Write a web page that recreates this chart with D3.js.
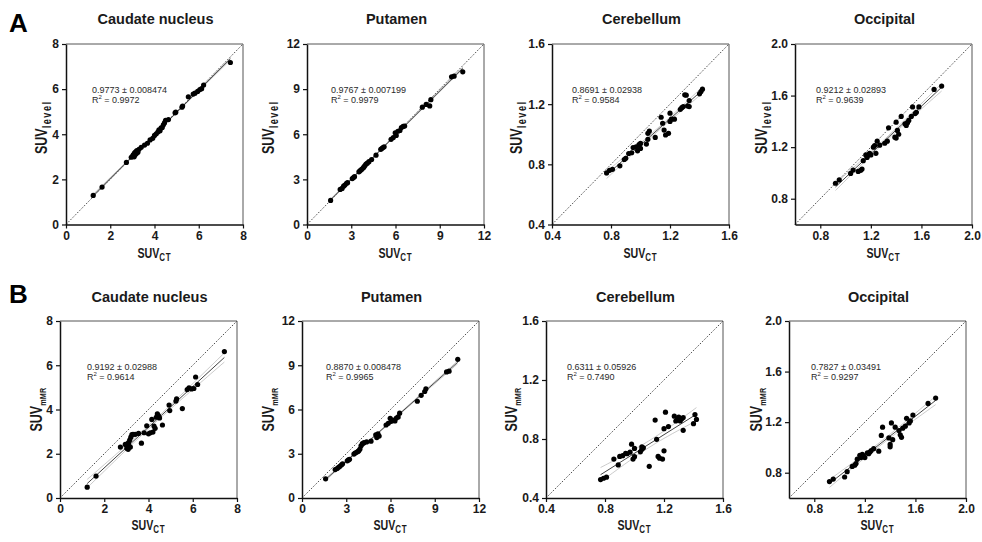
<!DOCTYPE html>
<html>
<head>
<meta charset="utf-8">
<script src="https://cdn.jsdelivr.net/npm/d3@7"></script>
<style>
  html, body { margin: 0; padding: 0; background: #fff; }
  svg { display: block; font-family: "Liberation Sans", Arial, sans-serif; }
</style>
</head>
<body>
<svg id="chart" width="982" height="542"></svg>
<script>
// ---- Regional SUV values: CT-based reference vs. level-based (A) and mMR (B) ----
const caudateCT    = [1.23,1.63,2.73,2.95,3.02,3.05,3.08,3.10,3.12,3.15,3.18,3.20,3.25,3.30,3.40,3.55,3.68,3.80,3.92,4.00,4.08,4.15,4.20,4.25,4.30,4.35,4.40,4.45,4.50,4.63,4.93,4.96,5.24,5.27,5.53,5.75,5.83,5.95,6.05,6.13,6.22,7.43];
const caudateLevel = [1.29,1.66,2.75,2.98,3.05,3.10,3.00,3.18,3.08,3.22,3.15,3.28,3.20,3.33,3.42,3.52,3.60,3.75,3.82,3.95,4.02,4.10,4.20,4.15,4.28,4.30,4.42,4.50,4.62,4.65,4.95,4.98,5.20,5.25,5.66,5.78,5.82,5.90,5.98,6.02,6.18,7.18];
const caudateMR    = [0.49,0.99,2.30,2.42,2.25,2.45,2.20,2.50,2.35,2.62,2.30,2.75,2.86,2.88,2.88,2.92,2.48,2.95,3.26,2.90,2.95,3.55,2.98,3.25,3.15,3.65,3.80,3.72,3.62,3.30,4.20,3.95,4.38,4.48,4.04,4.90,4.98,4.93,4.95,5.47,5.13,6.62];

const putamenCT    = [1.60,2.25,2.38,2.48,2.57,2.68,2.75,3.07,3.15,3.22,3.52,3.60,3.70,3.80,3.86,3.93,4.00,4.09,4.20,4.38,4.68,5.00,5.07,5.15,5.23,5.70,5.85,5.98,6.05,6.16,6.30,6.40,6.52,6.62,7.82,8.08,8.32,8.40,9.80,9.97,10.56];
const putamenLevel = [1.60,2.33,2.40,2.55,2.62,2.74,2.78,3.05,3.12,3.18,3.50,3.58,3.66,3.75,3.83,3.92,4.02,4.08,4.18,4.32,4.61,5.00,5.05,5.12,5.17,5.66,5.78,6.10,5.92,6.20,6.25,6.45,6.52,6.55,7.80,7.98,7.88,8.30,9.82,9.86,10.15];
const putamenMR    = [1.30,1.93,2.00,2.08,2.15,2.25,2.32,2.52,2.58,2.62,2.98,3.05,3.10,3.16,3.22,3.32,3.54,3.68,3.75,3.80,3.85,4.28,4.10,4.35,4.20,4.95,5.06,5.40,5.20,5.28,5.22,5.42,5.50,5.75,6.56,6.96,7.22,7.40,8.55,8.60,9.40];

const cerebellumCT    = [0.77,0.79,0.81,0.86,0.89,0.90,0.92,0.94,0.95,0.97,0.98,0.99,1.00,1.00,1.04,1.05,1.05,1.06,1.10,1.14,1.15,1.16,1.17,1.19,1.20,1.20,1.21,1.23,1.27,1.28,1.29,1.30,1.31,1.32,1.33,1.33,1.40,1.41,1.42];
const cerebellumLevel = [0.743,0.760,0.767,0.790,0.832,0.840,0.872,0.877,0.912,0.917,0.890,0.932,0.906,0.939,0.935,0.966,1.006,1.021,0.979,1.113,1.073,1.028,0.995,1.006,1.140,1.085,1.100,1.100,1.166,1.177,1.184,1.262,1.260,1.188,1.224,1.184,1.269,1.284,1.300];
const cerebellumMR    = [0.525,0.534,0.541,0.664,0.624,0.682,0.687,0.702,0.700,0.711,0.765,0.664,0.736,0.680,0.713,0.731,0.747,0.740,0.615,0.928,0.798,0.682,0.670,0.664,0.720,0.870,0.982,0.884,0.955,0.922,0.933,0.949,0.922,0.937,0.859,0.945,0.904,0.966,0.933];

const occipitalCT    = [0.92,0.95,1.04,1.06,1.10,1.12,1.13,1.14,1.16,1.17,1.18,1.19,1.20,1.22,1.23,1.24,1.25,1.27,1.31,1.33,1.34,1.39,1.40,1.40,1.41,1.42,1.44,1.47,1.48,1.49,1.50,1.52,1.53,1.55,1.56,1.58,1.70,1.76];
const occipitalLevel = [0.920,0.946,0.996,1.022,1.012,1.020,1.030,1.095,1.140,1.120,1.140,1.152,1.140,1.200,1.212,1.152,1.246,1.215,1.230,1.246,1.350,1.277,1.394,1.270,1.330,1.300,1.438,1.381,1.368,1.390,1.407,1.438,1.512,1.460,1.470,1.512,1.648,1.674];
const occipitalMR    = [0.730,0.750,0.766,0.808,0.850,0.860,0.873,0.907,0.938,0.920,0.945,0.933,0.920,0.957,0.950,0.964,0.975,0.990,0.970,1.095,1.160,1.075,1.024,1.005,1.194,1.061,1.160,1.134,1.100,1.080,1.152,1.168,1.230,1.194,1.210,1.256,1.348,1.390];

// Regression results (slope ± SE, R squared)
const levelSlope = ["0.9773","0.9767","0.8691","0.9212"];
const levelSE    = ["0.008474","0.007199","0.02938","0.02893"];
const levelR2    = ["0.9972","0.9979","0.9584","0.9639"];
const mmrSlope   = ["0.9192","0.8870","0.6311","0.7827"];
const mmrSE      = ["0.02988","0.008478","0.05926","0.03491"];
const mmrR2      = ["0.9614","0.9965","0.7490","0.9297"];

// Region names and axis ranges
const regionNames = ["Caudate nucleus","Putamen","Cerebellum","Occipital"];
const axisDomains = [[0, 8], [0, 12], [0.4, 1.6], [0.6, 2.0]];
const axisTicks   = [[0,2,4,6,8],[0,3,6,9,12],[0.4,0.8,1.2,1.6],[0.8,1.2,1.6,2.0]];
const tickFormats = ["d", "d", ".1f", ".1f"];

const ctSets    = [caudateCT, putamenCT, cerebellumCT, occipitalCT];
const levelSets = [caudateLevel, putamenLevel, cerebellumLevel, occipitalLevel];
const mmrSets   = [caudateMR, putamenMR, cerebellumMR, occipitalMR];

// ---- Layout ----
const plotW = 177;
const rows = [
  { letter: "A", sub: "level", subSize: 12, subSpacing: 2, ys: levelSets, slope: levelSlope, se: levelSE, r2: levelR2,
    top: 44, height: 180.5, lefts: [66, 307, 552, 795], titleY: 24, letterY: 32, xTitleY: 258, tickPad: 3,
    yTitleDx: [-19, -33, -30, -28], yTitleDy: -7, noteDx: [26, 24, 20, 21] },
  { letter: "B", sub: "mMR", subSize: 9.5, subSpacing: 0.3, ys: mmrSets, slope: mmrSlope, se: mmrSE, r2: mmrR2,
    top: 321, height: 177, lefts: [60, 302, 546, 789], titleY: 302, letterY: 303, xTitleY: 530, tickPad: 2,
    yTitleDx: [-18, -28, -29, -27], yTitleDy: 0, noteDx: [27, 24, 21, 22] }
];

const svg = d3.select("#chart");
svg.append("rect").attr("width", 982).attr("height", 542).attr("fill", "#fff");

function fitWithSlope(xs, ys, slope) {
  const n = xs.length, mx = d3.mean(xs), my = d3.mean(ys);
  const b0 = my - slope * mx;
  const sxx = d3.sum(xs, x => (x - mx) ** 2);
  const sse = d3.sum(xs, (x, i) => (ys[i] - (b0 + slope * x)) ** 2);
  const s = Math.sqrt(sse / (n - 2));
  return { b0, slope, mx, sxx, s, n };
}

rows.forEach(row => {
  svg.append("text")
    .attr("x", 9).attr("y", row.letterY)
    .attr("font-size", 26).attr("font-weight", "bold").attr("fill", "#000")
    .text(row.letter);

  regionNames.forEach((name, k) => {
    const left = row.lefts[k], top = row.top, h = row.height;
    const x = d3.scaleLinear().domain(axisDomains[k]).range([left, left + plotW]);
    const y = d3.scaleLinear().domain(axisDomains[k]).range([top + h, top]);
    const xs = ctSets[k], ys = row.ys[k];
    const slope = parseFloat(row.slope[k]);
    const g = svg.append("g");

    // Title
    g.append("text")
      .attr("x", left + plotW / 2 + 1).attr("y", row.titleY)
      .attr("text-anchor", "middle")
      .attr("font-size", 14.5).attr("font-weight", "bold").attr("fill", "#1a1a1a")
      .text(name);

    // Top and right frame edges
    g.append("path")
      .attr("d", `M${left},${top}H${left + plotW}V${top + h}`)
      .attr("fill", "none").attr("stroke", "#555").attr("stroke-width", 1);

    // Line of identity
    const [d0, d1] = axisDomains[k];
    g.append("line")
      .attr("x1", x(d0)).attr("y1", y(d0)).attr("x2", x(d1)).attr("y2", y(d1))
      .attr("stroke", "#222").attr("stroke-width", 0.8).attr("stroke-dasharray", "1.6,1.6");

    // Regression line with 95% confidence bands
    const fit = fitWithSlope(xs, ys, slope);
    const xmin = d3.min(xs), xmax = d3.max(xs);
    const samples = d3.range(41).map(i => xmin + (xmax - xmin) * i / 40);
    const tCrit = 2.02;
    const band = sign => samples.map(v => {
      const se = fit.s * Math.sqrt(1 / fit.n + (v - fit.mx) ** 2 / fit.sxx);
      return [v, fit.b0 + fit.slope * v + sign * tCrit * se];
    });
    const line = d3.line().x(d => x(d[0])).y(d => y(d[1]));
    [-1, 1].forEach(sgn => {
      g.append("path").attr("d", line(band(sgn)))
        .attr("fill", "none").attr("stroke", "#a8a8a8").attr("stroke-width", 0.6);
    });
    g.append("path")
      .attr("d", line([[xmin, fit.b0 + fit.slope * xmin], [xmax, fit.b0 + fit.slope * xmax]]))
      .attr("fill", "none").attr("stroke", "#444").attr("stroke-width", 1);

    // Data points
    g.append("g").selectAll("circle")
      .data(xs.map((v, i) => [v, ys[i]]))
      .join("circle")
      .attr("cx", d => x(d[0])).attr("cy", d => y(d[1]))
      .attr("r", 2.6).attr("fill", "#000");

    // Axes
    const fmt = d3.format(tickFormats[k]);
    const xAxis = g.append("g").attr("transform", `translate(0,${top + h})`)
      .call(d3.axisBottom(x).tickValues(axisTicks[k]).tickFormat(fmt).tickSize(4).tickSizeOuter(0).tickPadding(row.tickPad));
    const yAxis = g.append("g").attr("transform", `translate(${left},0)`)
      .call(d3.axisLeft(y).tickValues(axisTicks[k]).tickFormat(fmt).tickSize(4).tickSizeOuter(0).tickPadding(3));
    [xAxis, yAxis].forEach(ax => {
      ax.select(".domain").attr("stroke", "#111").attr("stroke-width", 1.5);
      ax.selectAll(".tick line").attr("stroke", "#111").attr("stroke-width", 1.2);
      ax.selectAll(".tick text")
        .attr("font-family", "Liberation Sans, Arial, sans-serif")
        .attr("font-size", 12).attr("font-weight", "bold").attr("fill", "#1a1a1a");
    });

    // Axis titles
    const xt = g.append("g")
      .attr("transform", `translate(${left + plotW / 2},${row.xTitleY}) scale(0.76,1)`)
      .append("text").attr("text-anchor", "middle").attr("font-weight", "bold").attr("fill", "#1a1a1a");
    xt.append("tspan").attr("font-size", 14).text("SUV");
    xt.append("tspan").attr("font-size", 10.5).attr("dy", 3).attr("letter-spacing", 1).text("CT");

    const yt = g.append("g")
      .attr("transform", `translate(${left + row.yTitleDx[k]},${top + h / 2 + row.yTitleDy}) rotate(-90) scale(0.76,1)`)
      .append("text").attr("text-anchor", "middle").attr("font-weight", "bold").attr("fill", "#1a1a1a");
    yt.append("tspan").attr("font-size", 16.5).text("SUV");
    yt.append("tspan").attr("font-size", row.subSize).attr("dy", 3.5)
      .attr("letter-spacing", row.subSpacing).text(row.sub);

    // Regression annotation
    const nx = left + row.noteDx[k], ny = top + 49;
    g.append("text").attr("x", nx).attr("y", ny)
      .attr("font-size", 9).attr("fill", "#2a2a2a")
      .text(`${row.slope[k]} ± ${row.se[k]}`);
    const r2t = g.append("text").attr("x", nx).attr("y", ny + 10)
      .attr("font-size", 9).attr("fill", "#2a2a2a");
    r2t.append("tspan").text("R");
    r2t.append("tspan").attr("font-size", 6).attr("dy", -4).text("2");
    r2t.append("tspan").attr("dy", 4).text(` = ${row.r2[k]}`);
  });
});
</script>
</body>
</html>
